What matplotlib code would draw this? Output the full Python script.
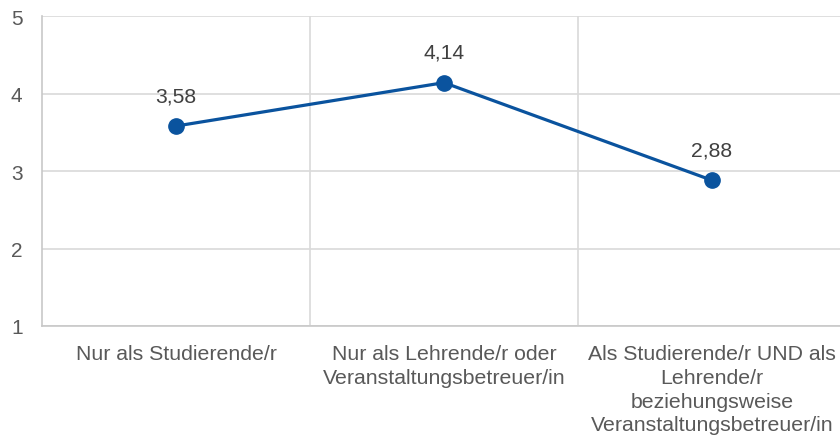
import matplotlib
matplotlib.use("Agg")
import matplotlib.pyplot as plt
from matplotlib.ticker import FixedLocator

categories = ["Nur als Studierende/r",
              "Nur als Lehrende/r oder\nVeranstaltungsbetreuer/in",
              "Als Studierende/r UND als\nLehrende/r\nbeziehungsweise\nVeranstaltungsbetreuer/in"]
values = [3.58, 4.14, 2.88]
yticks = [1, 2, 3, 4, 5]

plt.rcParams['font.family'] = ['Liberation Sans', 'DejaVu Sans']
W, H = 840, 439
fig = plt.figure(figsize=(W/100, H/100), dpi=100)
ax = fig.add_axes([42/W, 112/H, 804/W, 310/H])

x = list(range(len(categories)))
color = '#0A539E'
ax.plot(x, values, color=color, lw=2.3, marker='o', markersize=11, zorder=3, clip_on=False)
for xi, v in zip(x, values):
    ax.annotate(f"{v:.2f}".replace('.', ','), (xi, v), xytext=(0, 15), textcoords='offset points',
                ha='center', va='bottom', fontsize=15.2, color='#404040')

ax.set_xlim(-0.5, 2.5)
ax.set_ylim(1, 5)
ax.set_yticks(yticks)
ax.set_yticklabels([str(t) for t in yticks])
ax.set_xticks(x)
ax.set_xticklabels(categories, fontsize=15.3, color='#595959', linespacing=1.32)
ax.xaxis.set_minor_locator(FixedLocator([0.5, 1.5, 2.5]))
ax.tick_params(axis='both', which='both', length=0)
ax.tick_params(axis='y', labelsize=15, labelcolor='#595959', pad=14)
ax.tick_params(axis='x', pad=13)
ax.grid(axis='y', which='major', color='#d9d9d9', lw=1.2)
ax.grid(axis='x', which='minor', color='#d9d9d9', lw=1.2)
ax.set_axisbelow(True)
for s in ['top', 'right']:
    ax.spines[s].set_visible(False)
for s in ['left', 'bottom']:
    ax.spines[s].set_color('#c8c8c8')
    ax.spines[s].set_linewidth(1.2)

fig.savefig('out.png', dpi=100)
